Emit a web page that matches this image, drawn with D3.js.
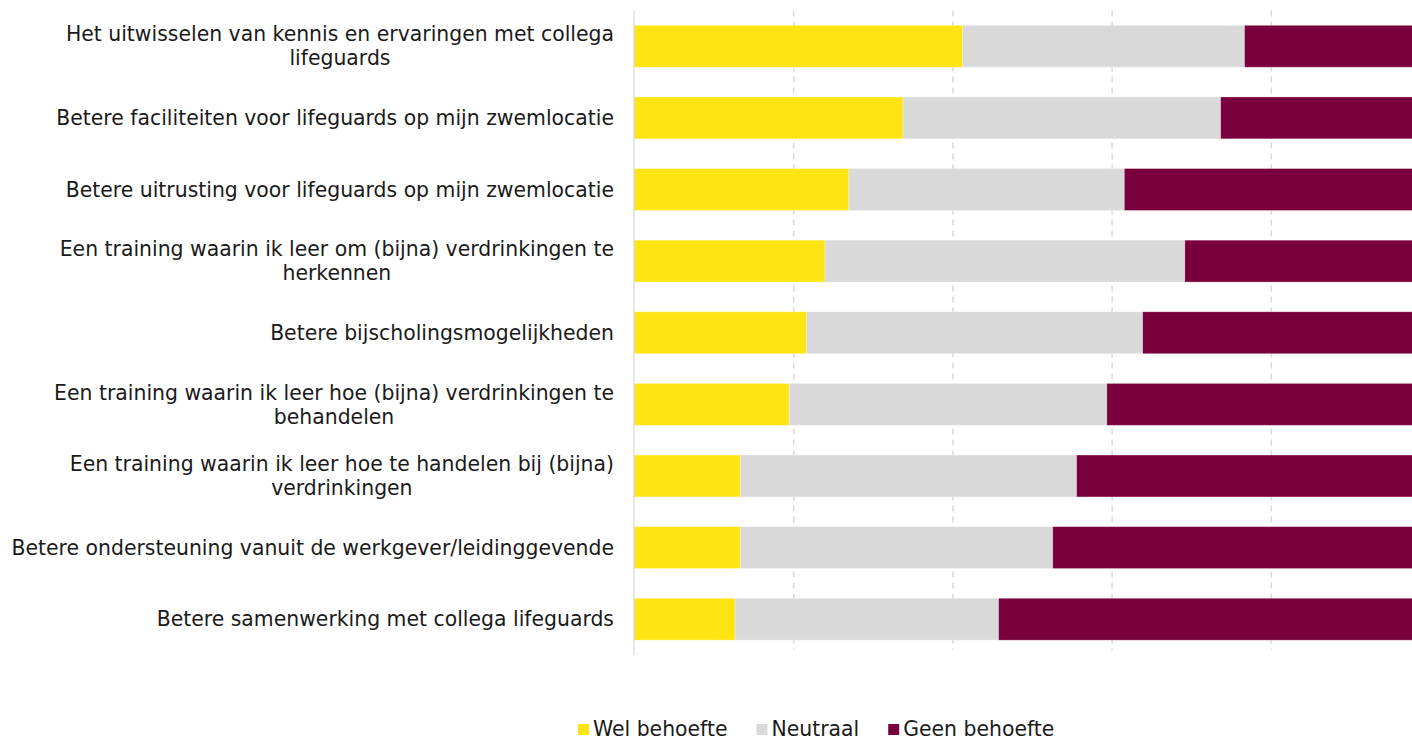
<!DOCTYPE html>
<html>
<head>
<meta charset="utf-8">
<script src="https://cdn.jsdelivr.net/npm/d3@7"></script>
<style>
  body { margin: 0; overflow: hidden; background: #fff; }
  text { font-family: "DejaVu Sans", sans-serif; fill: #1a1a1a; }
</style>
</head>
<body>
<div id="chart"></div>
<script>
// data (percent per answer)
var categories = [
    "Het uitwisselen van kennis en ervaringen met collega\nlifeguards",
    "Betere faciliteiten voor lifeguards op mijn zwemlocatie",
    "Betere uitrusting voor lifeguards op mijn zwemlocatie",
    "Een training waarin ik leer om (bijna) verdrinkingen te\nherkennen",
    "Betere bijscholingsmogelijkheden",
    "Een training waarin ik leer hoe (bijna) verdrinkingen te\nbehandelen",
    "Een training waarin ik leer hoe te handelen bij (bijna)\nverdrinkingen",
    "Betere ondersteuning vanuit de werkgever/leidinggevende",
    "Betere samenwerking met collega lifeguards"
];
var welBehoefte = [41.3, 33.8, 27.0, 24.0, 21.7, 19.5, 13.4, 13.4, 12.7];
var neutraal = [35.4, 39.9, 34.6, 45.2, 42.2, 39.9, 42.2, 39.2, 33.1];
var geenBehoefte = [23.3, 26.3, 38.4, 30.8, 36.1, 40.6, 44.4, 47.4, 54.2];
var seriesNames = ["Wel behoefte", "Neutraal", "Geen behoefte"];
var colors = ["#ffe414", "#d9d9d9", "#7a003d"];
var ticks = [0, 20, 40, 60, 80, 100];

var width = 1430, height = 739;
var plotLeft = 634, plotRight = 1430, plotTop = 10.5, plotBottom = 655;
var fontSize = 20.4;

var svg = d3.select("#chart").append("svg").attr("width", width).attr("height", height);

var x = d3.scaleLinear().domain([0, 100]).range([plotLeft, plotRight]);
var y = d3.scaleBand().domain(categories).range([plotTop, plotBottom]).paddingInner(0.415).paddingOuter(0.207);

var table = categories.map(function (c, i) {
    return { cat: c, "Wel behoefte": welBehoefte[i], "Neutraal": neutraal[i], "Geen behoefte": geenBehoefte[i] };
});
var stacked = d3.stack().keys(seriesNames)(table);

// gridlines
svg.append("g").selectAll("line").data(ticks.slice(1)).enter().append("line")
    .attr("x1", function (d) { return x(d) + 0.5; })
    .attr("x2", function (d) { return x(d) + 0.5; })
    .attr("y1", plotTop).attr("y2", plotBottom - 5)
    .attr("stroke", "#d9d9d9").attr("stroke-width", 1.5).attr("stroke-dasharray", "6,5");

// bars
svg.append("g").selectAll("g").data(stacked).enter().append("g")
    .attr("fill", function (d, i) { return colors[i]; })
    .selectAll("rect").data(function (d) { return d; }).enter().append("rect")
    .attr("x", function (d) { return x(d[0]); })
    .attr("width", function (d) { return x(d[1]) - x(d[0]); })
    .attr("y", function (d) { return y(d.data.cat); })
    .attr("height", y.bandwidth())
    .attr("stroke", "#fff").attr("stroke-opacity", 0.35).attr("stroke-width", 0.8);

// axis line
svg.append("line").attr("x1", plotLeft).attr("x2", plotLeft).attr("y1", plotTop).attr("y2", plotBottom)
    .attr("stroke", "#d9d9d9").attr("stroke-width", 1.2);

// category labels
var labels = svg.append("g").selectAll("text").data(categories).enter().append("text")
    .attr("text-anchor", "middle")
    .attr("font-size", fontSize)
    .each(function (d) {
        var lines = d.split("\n");
        var t = d3.select(this);
        var cy = y(d) + y.bandwidth() / 2;
        lines.forEach(function (l, k) {
            t.append("tspan").attr("x", 0)
                .attr("y", cy + (k - (lines.length - 1) / 2) * 24)
                .attr("dy", "0.35em").text(l);
        });
    });
// right-align the block, center lines within it
labels.each(function () {
    var bb = this.getBBox();
    d3.select(this).attr("transform", "translate(" + (614 - bb.width / 2) + ",0)");
});

// legend
var legend = svg.append("g").attr("class", "legend");
var lx = 578;
seriesNames.forEach(function (name, i) {
    var g = legend.append("g").attr("transform", "translate(" + lx + ",0)");
    g.append("rect").attr("x", 0).attr("y", 724).attr("width", 11).attr("height", 11).attr("fill", colors[i]);
    var t = g.append("text").attr("x", 15).attr("y", 736).attr("font-size", fontSize).text(name);
    lx += 15 + t.node().getComputedTextLength() + 29;
});
</script>
</body>
</html>
